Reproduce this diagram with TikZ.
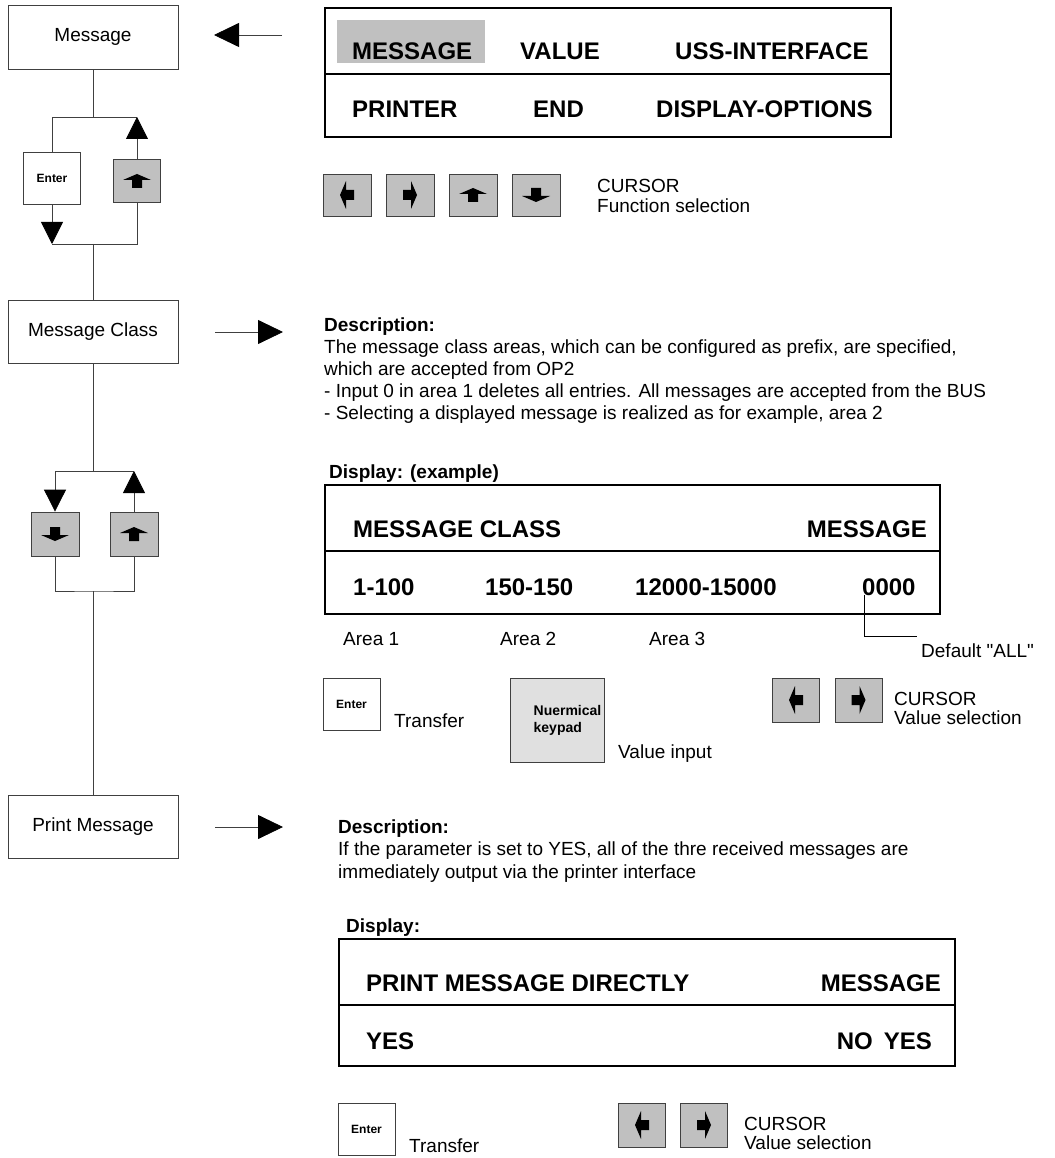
\documentclass[tikz,border=0pt]{standalone}
\usepackage{fontspec}
\setmainfont{Liberation Sans}
\usetikzlibrary{positioning, arrows.meta}
\definecolor{keygray}{HTML}{C0C0C0}
\definecolor{padgray}{HTML}{E0E0E0}
\definecolor{linegray}{HTML}{404040}
\newcommand{\bodyfont}{\fontsize{19}{22}\selectfont}
\newcommand{\dispfont}{\fontsize{24}{28}\selectfont\bfseries}
\newcommand{\keyfont}{\fontsize{12}{14}\selectfont\bfseries}
\newcommand{\straightdq}{\XeTeXglyph\the\XeTeXcharglyph"22\relax}

\tikzset{
  stepbox/.style={draw=linegray, line width=0.8pt, rectangle, minimum width=170pt, minimum height=63pt, inner sep=0pt, font=\bodyfont},
  keybox/.style={draw=linegray, line width=0.8pt, fill=keygray, minimum width=48pt, minimum height=42pt, inner sep=0pt},
  enterkey/.style={draw=linegray, line width=0.8pt, fill=white, minimum width=57pt, minimum height=52pt, inner sep=0pt, font=\keyfont},
  dispbox/.style={draw, line width=1.6pt, anchor=north west, inner sep=0pt},
  disptext/.style={anchor=base west, inner sep=0pt, font=\dispfont},
  bodytext/.style={anchor=base west, inner sep=0pt, font=\bodyfont},
  headtext/.style={anchor=base west, inner sep=0pt, font=\bodyfont\bfseries},
  flowline/.style={draw=linegray, line width=0.8pt},
  flowarrow/.style={flowline, -{Triangle[length=22pt, width=22pt, black]}},
  pointer/.style={draw=linegray, line width=0.8pt, -{Triangle[length=25pt, width=24pt, black]}},
  keyarrow/.pic={\fill (0,-7) -- (14,-1) -- (5,-1) -- (5,7) -- (-5,7) -- (-5,-1) -- (-14,-1) -- cycle;}
}

\begin{document}
\begin{tikzpicture}[x=1pt, y=-1pt]
\useasboundingbox (0,0) rectangle (1054,1158);

% Menu steps on the left
\node[stepbox, minimum height=64pt] (msg) at (93,37) {Message};
\node[stepbox] (mclass) at (93,332) {Message Class};
\node[stepbox] (pmsg) at (93,827) {Print Message};

% Loop 1: Enter / up
\node[enterkey] (ent1) at (52,178) {Enter};
\node[keybox, minimum width=47pt, minimum height=43pt] (up1) at (137,181) {};
\pic at (up1) {keyarrow};
\coordinate (split1) at (93,117);
\coordinate (join1) at (93,244);
\draw[flowline] (msg) -- (split1);
\draw[flowline] (ent1.north) |- (up1.north |- split1);
\draw[flowarrow] (up1.north) -- (up1.north |- split1);
\draw[flowarrow] (ent1.south) -- (ent1.south |- join1);
\draw[flowline] (ent1.south |- join1) -| (up1.south);
\draw[flowline] (join1) -- (mclass);

% Loop 2: down / up
\node[keybox, minimum height=44pt] (dn2) at (55,534) {};
\pic[rotate=180] at (dn2) {keyarrow};
\node[keybox, minimum height=44pt] (up2) at (134,534) {};
\pic at (up2) {keyarrow};
\coordinate (split2) at (93,471);
\coordinate (join2) at (93,591);
\draw[flowline] (mclass) -- (split2);
\draw[flowarrow] (up2.north |- split2) -| (dn2.north);
\draw[flowarrow] (up2.north) -- (up2.north |- split2);
\draw[flowline] (dn2.south) |- (join2) -| (up2.south);
\draw[flowline] (join2) -- (pmsg);

% Pointers
\coordinate (msgfrom) at (282,35);
\coordinate (msgto) at (214,35);
\draw[pointer] (msgfrom) -- (msgto);
\coordinate (mcfrom) at (215,332);
\coordinate (mcto) at (283,332);
\draw[pointer] (mcfrom) -- (mcto);
\coordinate (pmfrom) at (215,827);
\coordinate (pmto) at (283,827);
\draw[pointer] (pmfrom) -- (pmto);

% Main menu display
\fill[keygray] (337,20) rectangle (485,63);
\node[dispbox, minimum width=566pt, minimum height=129pt] (disp1) at (324,7) {};
\draw[line width=1.6pt] (disp1.north west) ++(0,67) -- ++(566,0);
\node[disptext] (m1) at (352,60) {MESSAGE};
\node[disptext] (m2) at (520,60) {VALUE};
\node[disptext] (m3) at (675,60) {USS-INTERFACE};
\node[disptext] (m4) at (352,118) {PRINTER};
\node[disptext] (m5) at (533,118) {END};
\node[disptext] (m6) at (656,118) {DISPLAY-OPTIONS};

% Cursor keys
\foreach \kx/\kr [count=\i] in {347/90, 410/-90, 473/0, 536/180} {
  \node[keybox] (cur\i) at (\kx,195) {};
  \pic[rotate=\kr] at (cur\i) {keyarrow};
}
\node[bodytext] (curlbl) at (597,193) {CURSOR};
\node[bodytext] (funlbl) at (597,213) {Function selection};

% Description: message class
\node[headtext] (desc1) at (324,331) {Description:};
\node[bodytext] (d1a) at (324,353) {The message class areas, which can be configured as prefix, are specified,};
\node[bodytext] (d1b) at (324,375) {which are accepted from OP2};
\node[bodytext] (d1c) at (324,397) {- Input 0 in area 1 deletes all entries. All messages are accepted from the BUS};
\node[bodytext] (d1d) at (324,419) {- Selecting a displayed message is realized as for example, area 2};

% Display: message class
\node[headtext] (dlbl2) at (329,478) {Display: (example)};
\node[dispbox, minimum width=615pt, minimum height=129pt] (disp2) at (324,484) {};
\draw[line width=1.6pt] (disp2.north west) ++(0,67) -- ++(615,0);
\node[disptext] (c1) at (353,537) {MESSAGE CLASS};
\node[disptext, anchor=base east] (c2) at (927,537) {MESSAGE};
\node[disptext] (a1) at (353,595) {1-100};
\node[disptext] (a2) at (485,595) {150-150};
\node[disptext] (a3) at (635,595) {12000-15000};
\node[disptext] (zeros) at (862,595) {0000};
\node[bodytext] (ar1) at (343,645) {Area 1};
\node[bodytext] (ar2) at (500,645) {Area 2};
\node[bodytext] (ar3) at (649,645) {Area 3};
\coordinate (dflt) at (917,636);
\node[bodytext] (dfltlbl) at (921,657) {Default \straightdq ALL\straightdq};
\draw[line width=0.8pt] ([xshift=2pt]zeros.base west) |- (dflt);

% Keys below
\node[enterkey] (ent2) at (351.5,704) {Enter};
\node[bodytext] (tr2) at (394,727) {Transfer};
\node[draw=linegray, line width=0.8pt, fill=padgray, minimum width=91pt, minimum height=84pt, align=left, font=\fontsize{14}{17}\selectfont\bfseries] (kpad) at (557.5,720) {\hspace*{20pt}Nuermical\\\hspace*{20pt}keypad};
\node[bodytext] (vin) at (618,758) {Value input};
\node[keybox, minimum width=47pt, minimum height=44pt] (cl2) at (796,700) {};
\pic[rotate=90] at (cl2) {keyarrow};
\node[keybox, minimum width=47pt, minimum height=44pt] (cr2) at (858.5,700) {};
\pic[rotate=-90] at (cr2) {keyarrow};
\node[bodytext] (curlbl2) at (894,705) {CURSOR};
\node[bodytext] (vsel2) at (894,724) {Value selection};

% Description: print message
\node[headtext] (desc2) at (338,833) {Description:};
\node[bodytext] (d2a) at (338,855) {If the parameter is set to YES, all of the thre received messages are};
\node[bodytext] (d2b) at (338,878) {immediately output via the printer interface};

% Display: print message
\node[headtext] (dlbl3) at (346,932) {Display:};
\node[dispbox, minimum width=616pt, minimum height=127pt] (disp3) at (338,938) {};
\draw[line width=1.6pt] (disp3.north west) ++(0,67) -- ++(616,0);
\node[disptext] (p1) at (366,991) {PRINT MESSAGE DIRECTLY};
\node[disptext, anchor=base east] (p2) at (941,991) {MESSAGE};
\node[disptext] (p3) at (366,1049) {YES};
\node[disptext, anchor=base east] (p4) at (932,1049) {NO\hspace{11pt}YES};

% Keys at the bottom
\node[enterkey] (ent3) at (366.5,1129) {Enter};
\node[bodytext] (tr3) at (409,1152) {Transfer};
\node[keybox, minimum width=47pt, minimum height=44pt] (cl3) at (642,1125) {};
\pic[rotate=90] at (cl3) {keyarrow};
\node[keybox, minimum width=47pt, minimum height=44pt] (cr3) at (704,1125) {};
\pic[rotate=-90] at (cr3) {keyarrow};
\node[bodytext] (curlbl3) at (744,1130) {CURSOR};
\node[bodytext] (vsel3) at (744,1149) {Value selection};
\end{tikzpicture}
\end{document}
